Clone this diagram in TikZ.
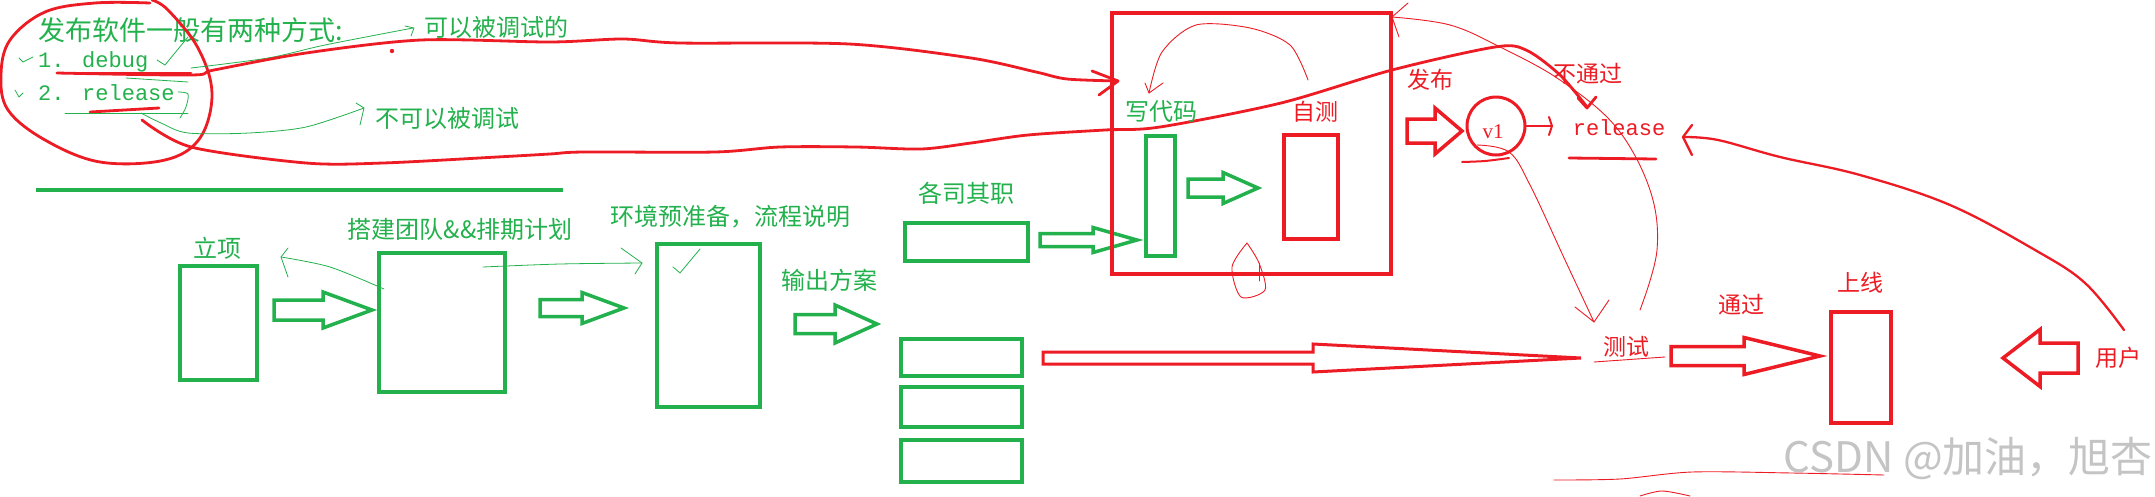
\documentclass[tikz,border=0pt]{standalone}
\usepackage{fontspec}
\setmainfont{Liberation Serif}
\newfontfamily\cjk{Noto Sans CJK SC}
\newfontfamily\mono{Liberation Mono}
\definecolor{pgreen}{HTML}{22B14C}
\definecolor{pred}{HTML}{ED1C24}
\definecolor{wmgray}{HTML}{C4C4C4}
\newcommand{\blk}[7]{\draw[#1] (#2,{#5-#6}) -- (#3,{#5-#6}) -- (#3,{#5-#7}) -- (#4,#5) -- (#3,{#5+#7}) -- (#3,{#5+#6}) -- (#2,{#5+#6}) -- cycle;}
\tikzset{
  gt/.style={text=pgreen, inner sep=0pt, font=\cjk\fontsize{24}{24}\selectfont},
  rt/.style={text=pred, inner sep=0pt, font=\cjk\fontsize{23}{23}\selectfont},
  gbox/.style={draw=pgreen, line width=3.5pt, inner sep=0pt},
  rbox/.style={draw=pred, line width=3.5pt, inner sep=0pt},
  garr/.style={draw=pgreen, line width=3.5pt},
  rarr/.style={draw=pred, line width=3.5pt},
  gthin/.style={draw=pgreen, line width=0.8pt, line cap=round, line join=round},
  rthin/.style={draw=pred, line width=0.9pt, line cap=round, line join=round},
  rthick/.style={draw=pred, line width=2.8pt, line cap=round, line join=round},
}
\begin{document}
\begin{tikzpicture}[x=1pt,y=-1pt]
\useasboundingbox (0,0) rectangle (2155,496);
\fill[white] (0,0) rectangle (2155,496);

% ---------- top-left notes ----------
\node[gt, anchor=west, font=\cjk\fontsize{27}{27}\selectfont] (title) at (38,30) {发布软件一般有两种方式:};
\node[text=pgreen, inner sep=0pt, anchor=west, font=\mono\fontsize{22}{22}\selectfont] (dbg) at (38,62) {1. debug};
\node[text=pgreen, inner sep=0pt, anchor=west, font=\mono\fontsize{22}{22}\selectfont] (rel) at (38,93) {2. release};
\node[gt] (canDebug) at (496,27) {可以被调试的};
\node[gt] (noDebug) at (447,118) {不可以被调试};

% red loop around notes
\draw[rthick] plot[smooth, tension=0.6] coordinates {(150,3) (95,3) (45,12) (10,40) (1,75) (8,110) (45,140) (100,162) (165,160) (200,138) (212,93) (198,48) (168,10) (152,0)};
\draw[rthick] (57,73) -- (191,73);
\draw[rthick] (90,112) -- (159,108);
\fill[pred] (392,51) circle (2.2);

% green annotations
\draw[gthin] (19,58) -- (23,62) -- (33,57);
\draw[gthin] (15,90) -- (19,97) -- (23,93);
\draw[gthin] (157,60) -- (165,65) -- (188,37);
\draw[gthin] (126,78) -- (188,82);
\draw[gthin] plot[smooth] coordinates {(191,68) (268,58) (325,45) (413,28)};
\draw[gthin] (405,26) -- (414,28) -- (411,36);
\draw[gthin] plot[smooth] coordinates {(178,92) (188,94) (186,107) (180,118)};
\draw[gthin] (65,113) -- (188,113);
\draw[gthin] plot[smooth] coordinates {(141,113) (161,123) (188,133) (249,133) (306,127) (364,108)};
\draw[gthin] (356,103) -- (364,108) -- (360,125);

% long red curves
\draw[rthick] plot[smooth, tension=0.5] coordinates {(57,73) (191,75) (214,70) (306,53) (421,40) (550,42) (623,39) (680,43) (849,44) (971,58) (1036,72) (1067,79) (1118,81)};
\draw[rthick] (1092,71) -- (1118,81) -- (1099,95);
\draw[rthick] plot[smooth, tension=0.5] coordinates {(142,120) (191,147) (306,163) (383,163) (497,157) (550,154) (584,152) (715,152) (780,147) (856,147) (921,149) (971,143) (1028,135) (1105,130) (1160,127) (1281,103) (1392,70) (1495,47) (1526,50) (1560,75) (1587,107)};
\draw[rthick] (1578,98) -- (1587,108) -- (1596,97);

% green separator
\draw[pgreen, line width=4pt] (36,190) -- (563,190);

% ---------- lower green flow ----------
\node[gt] (tLixiang) at (217,248) {立项};
\node[gbox, minimum width=77, minimum height=114] (lixiang) at (218.5,323) {};
\node[gt] (tTeam) at (460,229) {搭建团队\&\&排期计划};
\node[gbox, minimum width=126, minimum height=139] (team) at (442,322.5) {};
\node[gt] (tEnv) at (730,217) {环境预准备，流程说明};
\node[gbox, minimum width=103, minimum height=163] (env) at (708.5,325.5) {};
\node[gt] (tOut) at (829,280) {输出方案};
\node[gt] (tDuty) at (966,193) {各司其职};
\node[gbox, minimum width=123, minimum height=38] (duty) at (966.5,242) {};
\node[gbox, minimum width=121, minimum height=37] (out1) at (961.5,357.5) {};
\node[gbox, minimum width=121, minimum height=40] (out2) at (961.5,407) {};
\node[gbox, minimum width=121, minimum height=42] (out3) at (961.5,461) {};

\blk{garr}{274}{323}{372}{310}{10}{18}
\blk{garr}{540}{582}{624}{308}{8.5}{15.5}
\blk{garr}{795}{835}{877}{324}{9.5}{19}
\blk{garr}{1040}{1093}{1137}{240}{6.5}{12.5}

% thin green scribbles
\draw[gthin] plot[smooth] coordinates {(384,289) (330,267) (281,257)};
\draw[gthin] (288,248) -- (281,257) -- (288,277);
\draw[gthin] plot[smooth] coordinates {(483,267) (560,264) (642,263)};
\draw[gthin] (621,248) -- (642,263) -- (635,274);
\draw[gthin] (673,267) -- (680,273) -- (700,249);

% ---------- red dev box ----------
\node[rbox, minimum width=279, minimum height=261] (dev) at (1251.5,143.5) {};
\node[gt] (tCode) at (1161,112) {写代码};
\node[gbox, minimum width=29, minimum height=120] (code) at (1160.5,196) {};
\node[rt] (tSelf) at (1315,112) {自测};
\node[rbox, minimum width=54, minimum height=104] (self) at (1311,187) {};
\blk{garr}{1188}{1223}{1258}{188}{9}{15.5}

\draw[rthin] plot[smooth] coordinates {(1308,80) (1290,45) (1250,28) (1196,25) (1162,52) (1149,93)};
\draw[rthin] (1145,83) -- (1149,93) -- (1163,83);
\draw[rthin] plot[smooth] coordinates {(1247,243) (1232,267) (1241,297) (1265,290) (1259,263) (1247,243)};
\draw[rthin] (1259,263) -- (1259,281);

% ---------- release part ----------
\node[rt] (tPub) at (1430,80) {发布};
\blk{rarr}{1407}{1435}{1462}{131}{12}{23}
\node[draw=pred, line width=3pt, circle, minimum size=58, inner sep=0pt] (v1) at (1496,126) {};
\node[text=pred, inner sep=0pt, font=\fontsize{21}{21}\selectfont] (tv1) at (1493,132) {v1};
\draw[rthick, line width=2pt] (v1.east) -- (1552,126);
\draw[rthick, line width=2pt] (1549,117) -- (1552,126) -- (1549,135);
\node[text=pred, inner sep=0pt, font=\mono\fontsize{22}{22}\selectfont] (release) at (1619,128) {release};
\draw[rthick] (1569,158) -- (1656,159);
\draw[rthick, line width=2pt] plot[smooth] coordinates {(1462,162) (1485,161) (1509,158)};
\node[rt] (tFail) at (1588,74) {不通过};

% thin loop from test back to dev box
\draw[rthin] plot[smooth, tension=0.6] coordinates {(1640,310) (1657,250) (1650,190) (1616,127) (1560,80) (1500,47) (1450,25) (1392,17)};
\draw[rthin] (1408,3) -- (1392,17) -- (1399,37);
% thin line from v1 down to test
\draw[rthin] plot[smooth, tension=0.6] coordinates {(1477,145) (1509,152) (1530,185) (1565,260) (1594,322)};
\draw[rthin] (1575,307) -- (1594,322) -- (1609,300);

% long thin red arrow to test
\draw[rarr, line width=3pt] (1043,352) -- (1313,352) -- (1313,344) -- (1581,358) -- (1313,372) -- (1313,364) -- (1043,364) -- cycle;
\node[rt] (tTest) at (1626,347) {测试};
\draw[rthin] (1594,362) -- (1665,357);

\node[rt] (tPass) at (1741,305) {通过};
\blk{rarr}{1671}{1744}{1820}{356}{9.5}{18.5}
\node[rt] (tOnline) at (1860,283) {上线};
\node[rbox, minimum width=60, minimum height=111] (online) at (1861,367.5) {};

\blk{rarr}{2078}{2040}{2003}{358}{15}{28.5}
\node[rt] (tUser) at (2118,358) {用户};

% user feedback curve to release
\draw[rthick, line width=2.3pt] plot[smooth, tension=0.6] coordinates {(2124,330) (2085,283) (2035,250) (1950,205) (1860,175) (1780,157) (1718,140) (1683,137)};
\draw[rthick, line width=2.3pt] (1692,125) -- (1683,137) -- (1692,155);

% bottom scribbles
\draw[rthin] plot[smooth] coordinates {(1554,480) (1620,479) (1692,472) (1792,473) (1884,475)};
\draw[rthin] plot[smooth] coordinates {(1640,496) (1662,491) (1690,496)};

% watermark
\node[text=wmgray, inner sep=0pt, anchor=east, font=\cjk\fontsize{42}{42}\selectfont] (wm) at (2153,458) {CSDN @加油，旭杏};
\end{tikzpicture}
\end{document}
